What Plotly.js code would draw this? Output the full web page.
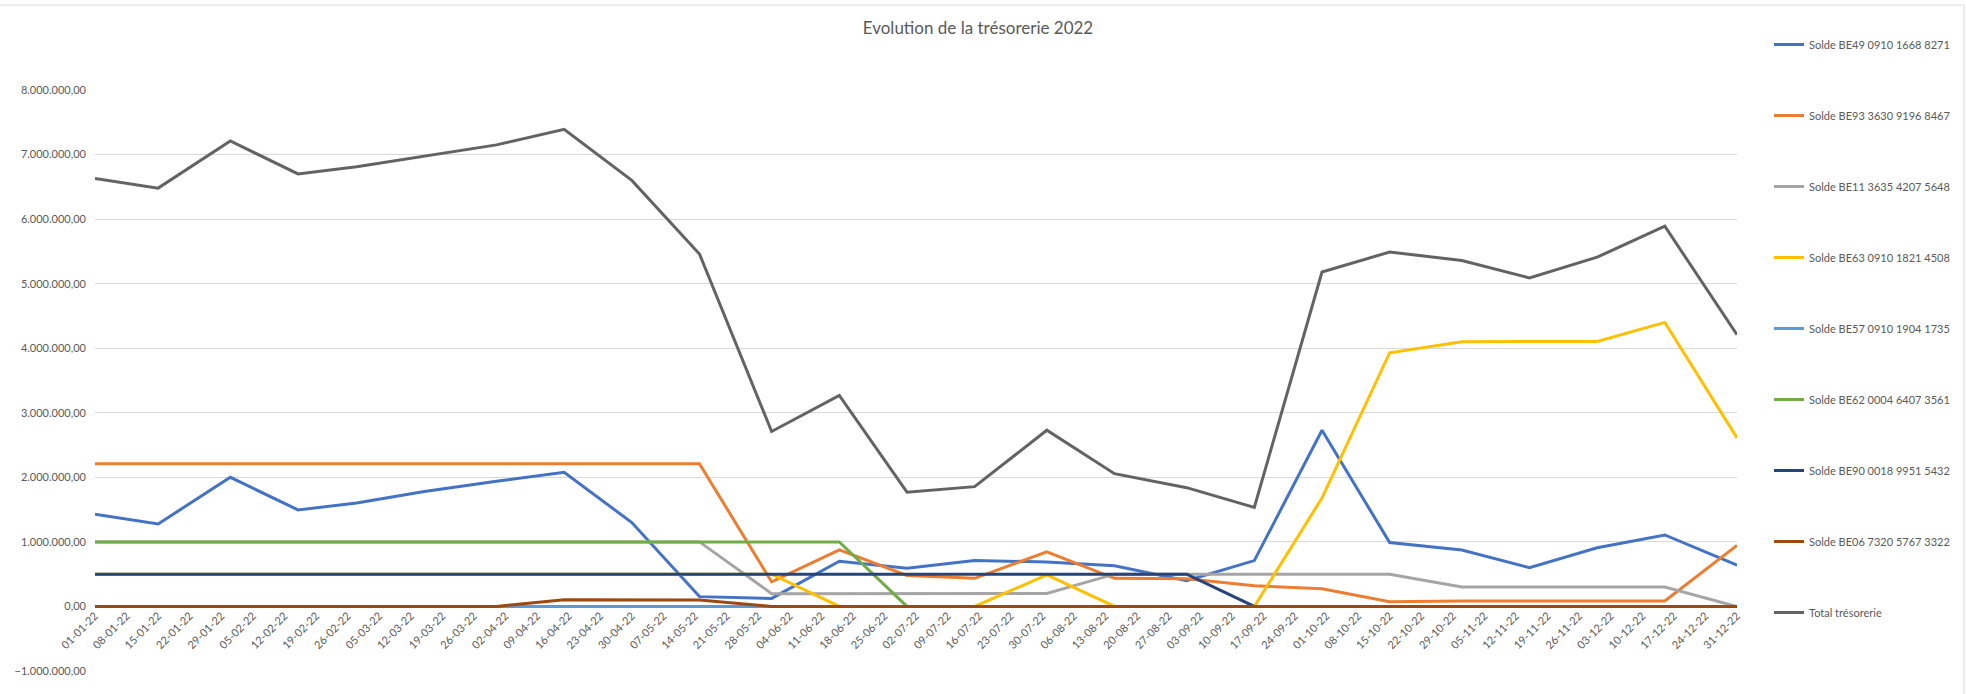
<!DOCTYPE html>
<html>
<head>
<meta charset="utf-8">
<script src="https://cdn.plot.ly/plotly-3.0.1.min.js"></script>
<style>html,body{margin:0;padding:0;background:#fff;}#chart{width:1966px;height:694px;}</style>
</head>
<body>
<div id="chart"></div>
<script>
const dates = ['2022-01-01','2022-01-15','2022-01-31','2022-02-15','2022-02-28','2022-03-15','2022-03-31','2022-04-15','2022-04-30','2022-05-15','2022-05-31','2022-06-15','2022-06-30','2022-07-15','2022-07-31','2022-08-15','2022-08-31','2022-09-15','2022-09-30','2022-10-15','2022-10-31','2022-11-15','2022-11-30','2022-12-15','2022-12-31'];

const seriesNames = ['Solde BE49 0910 1668 8271','Solde BE93 3630 9196 8467','Solde BE11 3635 4207 5648','Solde BE63 0910 1821 4508','Solde BE57 0910 1904 1735','Solde BE62 0004 6407 3561','Solde BE90 0018 9951 5432','Solde BE06 7320 5767 3322','Total trésorerie'];

const be49 = [1427000,1278000,2000000,1495000,1603000,1780000,1940000,2077000,1300000,152000,125000,700000,590000,710000,690000,630000,400000,710000,2730000,990000,875000,600000,910000,1107000,640000];
const be93 = [2210000,2210000,2210000,2210000,2210000,2210000,2210000,2210000,2210000,2210000,380000,875000,480000,435000,845000,435000,430000,320000,275000,74000,85000,85000,85000,85000,946000];
const be11 = [1000000,1000000,1000000,1000000,1000000,1000000,1000000,1000000,1000000,1000000,198000,198000,198000,198000,200000,500000,500000,500000,500000,500000,300000,300000,300000,300000,0];
const be63 = [500000,500000,500000,500000,500000,500000,500000,500000,500000,500000,500000,0,0,0,490000,0,0,0,1680000,3930000,4100000,4100000,4105000,4400000,2610000];
const be57 = [0,0,0,0,0,0,0,0,0,0,0,0,0,0,0,0,0,0,0,0,0,0,0,0,0];
const be62 = [1000000,1000000,1000000,1000000,1000000,1000000,1000000,1000000,1000000,1000000,1000000,1000000,0,0,0,0,0,0,0,0,0,0,0,0,0];
const be90 = [500000,500000,500000,500000,500000,500000,500000,500000,500000,500000,500000,500000,500000,500000,500000,500000,500000,0,0,0,0,0,0,0,0];
const be06 = [0,0,0,0,0,0,0,105000,100000,100000,0,0,0,0,0,0,0,0,0,0,0,0,0,0,0];
const total = [6630000,6480000,7210000,6700000,6810000,6980000,7150000,7390000,6600000,5460000,2710000,3270000,1770000,1856000,2730000,2057000,1840000,1535000,5180000,5490000,5360000,5090000,5410000,5890000,4210000];

const colors = ['#4472C4','#ED7D31','#A5A5A5','#FFC000','#5B9BD5','#70AD47','#264478','#9E480E','#636363'];
const allSeries = [be49,be93,be11,be63,be57,be62,be90,be06,total];

const traces = allSeries.map((vals,i)=>({
  type:'scatter', mode:'lines', x:dates, y:vals, name:seriesNames[i],
  legendgroup:'g'+i,
  line:{color:colors[i], width:3},
  hoverinfo:'skip'
}));

const W=1966,H=694,L=95,R=229,T=90,B=23;
const pw=W-L-R, ph=H-T-B;
const px2x = p => (p-L)/pw;
const py2y = p => (H-B-p)/ph;

const layout = {
  width:W, height:H,
  margin:{l:L,r:R,t:T,b:B,pad:0,autoexpand:false},
  paper_bgcolor:'#ffffff', plot_bgcolor:'#ffffff',
  font:{family:'Lato, "Open Sans", sans-serif', size:11, color:'#595959'},
  separators:',.',
  title:{text:'Evolution de la trésorerie 2022', x:978/W, xref:'container', xanchor:'center', y:1-28/H, yref:'container', yanchor:'middle', font:{family:'Lato, sans-serif', size:17, color:'#595959'}},
  showlegend:true,
  legend:{x:px2x(1769), xanchor:'left', xref:'paper', y:1-30/H, yref:'container', yanchor:'top', maxheight:1, tracegroupgap:52, font:{size:11, color:'#595959'}, bgcolor:'rgba(0,0,0,0)', itemwidth:30},
  xaxis:{type:'date', range:['2022-01-01','2022-12-31'], tickmode:'linear', tick0:'2022-01-01', dtick:7*86400000, tickformat:'%d-%m-%y', tickangle:-45, showgrid:false, zeroline:false, showline:false, ticks:'', anchor:'free', position:1/9, tickfont:{size:11,color:'#595959'}, automargin:false},
  yaxis:{range:[-1000000,8000000], tickmode:'linear', tick0:0, dtick:1000000, tickformat:',.2f', showgrid:true, gridcolor:'#D9D9D9', gridwidth:1, zeroline:false, showline:false, ticks:'', ticklabelstandoff:8, tickfont:{size:11,color:'#595959'}, automargin:false},
  shapes:[
    {type:'line', xref:'paper', yref:'paper', x0:px2x(0), x1:px2x(1964), y0:py2y(5), y1:py2y(5), line:{color:'#D9D9D9', width:1}},
    {type:'line', xref:'paper', yref:'paper', x0:px2x(1964), x1:px2x(1964), y0:py2y(5), y1:py2y(694), line:{color:'#D9D9D9', width:1}}
  ]
};

Plotly.newPlot('chart', traces, layout, {staticPlot:true, displayModeBar:false});
</script>
</body>
</html>
